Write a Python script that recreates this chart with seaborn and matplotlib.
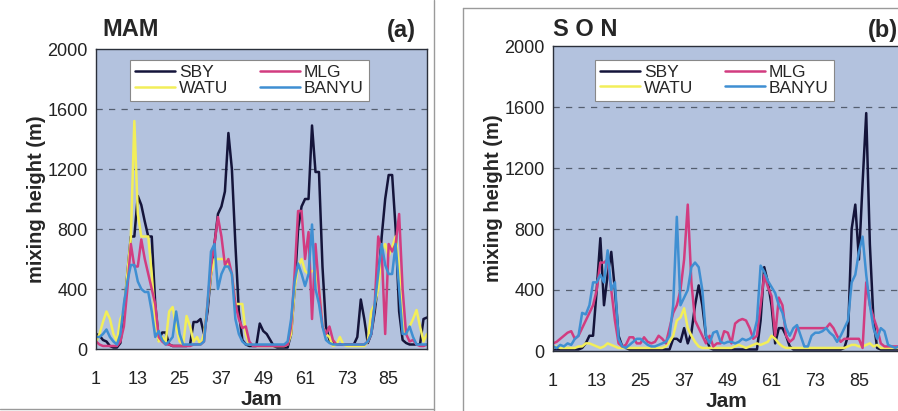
import matplotlib
matplotlib.use("Agg")
import matplotlib.pyplot as plt
from matplotlib.lines import Line2D
import seaborn as sns
import pandas as pd
import numpy as np

# ---------------- data ----------------
jam = list(range(1, 97))

# MAM
mam_sby = [100, 90, 60, 50, 20, 10, 10, 40, 250, 500, 750, 750, 1020, 960, 850, 750,
           750, 300, 60, 110, 110, 30, 20, 20, 20, 20, 20, 30, 180, 180, 200, 100,
           250, 500, 700, 900, 950, 1050, 1440, 1200, 700, 250, 60, 30, 20, 20, 20, 170,
           120, 100, 60, 20, 10, 10, 10, 10, 100, 400, 800, 950, 1000, 1000, 1490, 1180,
           1180, 550, 150, 60, 40, 30, 30, 30, 30, 30, 30, 80, 330, 200, 40, 100,
           250, 450, 750, 1000, 1160, 1160, 800, 250, 60, 40, 30, 30, 30, 30, 200, 210]
mam_watu = [50, 100, 180, 250, 200, 100, 50, 200, 250, 500, 740, 1520, 900, 750, 750, 750,
            500, 200, 50, 80, 50, 250, 280, 150, 50, 30, 220, 150, 50, 80, 30, 100,
            300, 500, 600, 600, 600, 600, 550, 500, 300, 300, 300, 100, 30, 30, 20, 20,
            20, 20, 20, 20, 20, 20, 20, 30, 100, 400, 550, 600, 520, 500, 520, 520,
            400, 150, 100, 80, 20, 30, 80, 30, 20, 20, 20, 20, 20, 20, 50, 250,
            300, 400, 650, 700, 620, 680, 750, 550, 150, 100, 150, 200, 260, 150, 50, 100]
mam_mlg = [50, 30, 20, 20, 20, 20, 20, 50, 150, 400, 700, 550, 550, 730, 600, 500,
           400, 300, 80, 50, 30, 30, 20, 20, 20, 20, 20, 20, 30, 30, 30, 50,
           300, 550, 700, 880, 750, 560, 600, 500, 300, 200, 140, 150, 50, 20, 20, 20,
           20, 20, 20, 20, 20, 20, 20, 30, 150, 500, 920, 920, 600, 780, 200, 700,
           400, 150, 100, 150, 60, 30, 30, 30, 30, 30, 30, 30, 30, 30, 50, 100,
           300, 750, 650, 100, 700, 650, 700, 900, 400, 100, 50, 60, 30, 20, 20, 30]
mam_banyu = [80, 80, 100, 130, 80, 50, 30, 100, 300, 450, 560, 560, 450, 400, 380, 380,
             250, 80, 120, 60, 30, 50, 80, 250, 100, 30, 30, 30, 30, 30, 30, 50,
             300, 650, 700, 400, 500, 550, 550, 500, 200, 100, 50, 30, 30, 30, 30, 30,
             30, 30, 30, 30, 30, 30, 30, 50, 200, 450, 570, 500, 420, 500, 830, 400,
             300, 150, 60, 40, 30, 30, 30, 30, 30, 30, 30, 30, 30, 30, 50, 100,
             300, 500, 700, 560, 500, 500, 700, 400, 100, 100, 150, 80, 30, 30, 30, 30]

# SON
son_sby = [10, 10, 10, 10, 10, 10, 10, 10, 20, 50, 100, 100, 400, 740, 300, 500,
           650, 400, 100, 30, 20, 10, 10, 10, 10, 10, 10, 10, 10, 10, 10, 10,
           10, 80, 80, 60, 150, 50, 120, 300, 430, 300, 100, 20, 10, 10, 10, 10,
           10, 10, 10, 10, 10, 10, 10, 10, 10, 200, 550, 450, 300, 50, 150, 150,
           100, 30, 10, 10, 10, 10, 10, 10, 10, 10, 10, 10, 10, 10, 10, 10,
           20, 100, 800, 960, 600, 1100, 1560, 700, 200, 20, 10, 10, 10, 10, 10, 10]
son_watu = [20, 30, 20, 20, 20, 20, 20, 30, 30, 50, 50, 40, 30, 20, 30, 50,
            40, 30, 20, 20, 20, 20, 20, 20, 20, 20, 20, 20, 20, 20, 20, 30,
            60, 100, 200, 220, 280, 150, 100, 60, 30, 20, 20, 20, 20, 20, 20, 20,
            20, 20, 30, 40, 30, 20, 30, 40, 50, 40, 50, 60, 100, 80, 50, 30,
            20, 20, 20, 20, 20, 20, 20, 20, 20, 20, 20, 20, 20, 20, 20, 20,
            20, 30, 40, 40, 30, 30, 40, 50, 30, 40, 20, 20, 20, 20, 20, 20]
son_mlg = [50, 60, 80, 100, 120, 130, 80, 100, 150, 200, 250, 300, 400, 580, 580, 600,
           400, 200, 50, 30, 40, 90, 90, 50, 50, 90, 60, 50, 60, 100, 80, 50,
           150, 250, 300, 400, 600, 960, 450, 200, 150, 100, 50, 100, 30, 50, 50, 130,
           120, 50, 180, 200, 210, 200, 150, 80, 100, 300, 500, 420, 360, 100, 350, 300,
           100, 60, 80, 150, 150, 150, 150, 150, 150, 150, 150, 150, 180, 150, 100, 60,
           80, 80, 80, 80, 80, 20, 450, 300, 220, 150, 50, 30, 30, 30, 30, 30]
son_banyu = [30, 20, 40, 30, 50, 40, 80, 100, 250, 240, 300, 450, 450, 500, 450, 660,
             400, 450, 80, 30, 20, 40, 60, 80, 80, 60, 40, 30, 30, 40, 50, 60,
             100, 300, 880, 300, 350, 400, 550, 580, 550, 400, 100, 50, 120, 130, 60, 50,
             60, 60, 50, 60, 80, 70, 80, 100, 200, 560, 520, 460, 420, 380, 300, 250,
             150, 100, 150, 170, 100, 30, 30, 100, 120, 120, 130, 150, 120, 100, 60, 100,
             150, 200, 450, 500, 650, 750, 500, 300, 150, 80, 150, 130, 40, 30, 20, 30]

stations = ["SBY", "WATU", "MLG", "BANYU"]
colors = {"SBY": "#14143a", "WATU": "#f2ee5a", "MLG": "#d23c80", "BANYU": "#3f8fd2"}
xticks = [1, 13, 25, 37, 49, 61, 73, 85]
yticks = [0, 400, 800, 1200, 1600, 2000]


def long_form(sby, watu, mlg, banyu):
    frames = []
    for name, vals in zip(stations, [sby, watu, mlg, banyu]):
        frames.append(pd.DataFrame({"Jam": jam, "height": vals, "station": name}))
    return pd.concat(frames, ignore_index=True)


mam = long_form(mam_sby, mam_watu, mam_mlg, mam_banyu)
son = long_form(son_sby, son_watu, son_mlg, son_banyu)

# ---------------- figure ----------------
sns.set_style("white")
plt.rcParams["font.family"] = ["Liberation Sans", "DejaVu Sans"]

W, H = 898, 411
fig = plt.figure(figsize=(W / 100, H / 100), dpi=100)
fig.patch.set_facecolor("white")


def px_axes(x0, y0, x1, y1):
    # pixel box (top-left origin) -> figure fraction
    return fig.add_axes([x0 / W, 1 - y1 / H, (x1 - x0) / W, (y1 - y0) / H])


ax_a = px_axes(96, 49, 427, 349)
ax_b = px_axes(553, 46, 899, 351)

panels = [(ax_a, mam, 0.463, 0.963),
          (ax_b, son, 0.466, 0.954)]

for ax, df, lx, ly in panels:
    ax.set_facecolor("#b3c2de")
    sns.lineplot(data=df, x="Jam", y="height", hue="station", hue_order=stations,
                 palette=colors, linewidth=1.8, ax=ax, legend=False)
    ax.set_xlim(1, 96)
    ax.set_ylim(0, 2000)
    ax.set_xticks(xticks)
    ax.set_yticks(yticks)
    ax.tick_params(axis="both", direction="out", length=3, width=0.8,
                   labelsize=13, colors="#222222")
    ax.tick_params(axis="x", pad=13)
    ax.tick_params(axis="y", pad=3)
    for y in yticks[1:-1]:
        ax.axhline(y, color="#555f70", lw=0.9, ls=(0, (5, 5)), zorder=0.5)
    for s in ax.spines.values():
        s.set_color("#2a2f3a")
        s.set_linewidth(1.0)
    ax.set_xlabel("Jam", fontsize=15, fontweight="bold", labelpad=1)
    ax.set_ylabel("mixing height (m)", fontsize=14.5, fontweight="bold", labelpad=1)

    handles = [Line2D([], [], color=colors[s], lw=1.8) for s in stations]
    leg = ax.legend(handles, stations, ncol=2, loc="upper center",
                    bbox_to_anchor=(lx, ly), borderaxespad=0, fontsize=12.5,
                    frameon=True, fancybox=False, edgecolor="#888888", framealpha=1,
                    handlelength=2.3, handletextpad=0.25, labelspacing=0.0,
                    columnspacing=1.8, borderpad=0.3)
    leg.get_frame().set_linewidth(0.8)

# panel titles
fig.text(102 / W, 1 - 30 / H, "MAM", fontsize=17, fontweight="bold", va="center", ha="left")
fig.text(416 / W, 1 - 30 / H, "(a)", fontsize=17, fontweight="bold", va="center", ha="right")
fig.text(553 / W, 1 - 30 / H, "S O N", fontsize=17, fontweight="bold", va="center", ha="left")
fig.text(898 / W, 1 - 30 / H, "(b)", fontsize=17, fontweight="bold", va="center", ha="right")

# panel frames of the scanned page
frame_kw = dict(color="#9a9a9a", lw=1.0, transform=fig.transFigure)
fig.add_artist(Line2D([434 / W, 434 / W], [0, 1], **frame_kw))
fig.add_artist(Line2D([0, 434 / W], [1 - 409 / H, 1 - 409 / H], **frame_kw))
fig.add_artist(Line2D([463 / W, 463 / W], [0, 1 - 8 / H], **frame_kw))
fig.add_artist(Line2D([463 / W, 1], [1 - 8 / H, 1 - 8 / H], **frame_kw))

fig.savefig("out.png", dpi=100)
